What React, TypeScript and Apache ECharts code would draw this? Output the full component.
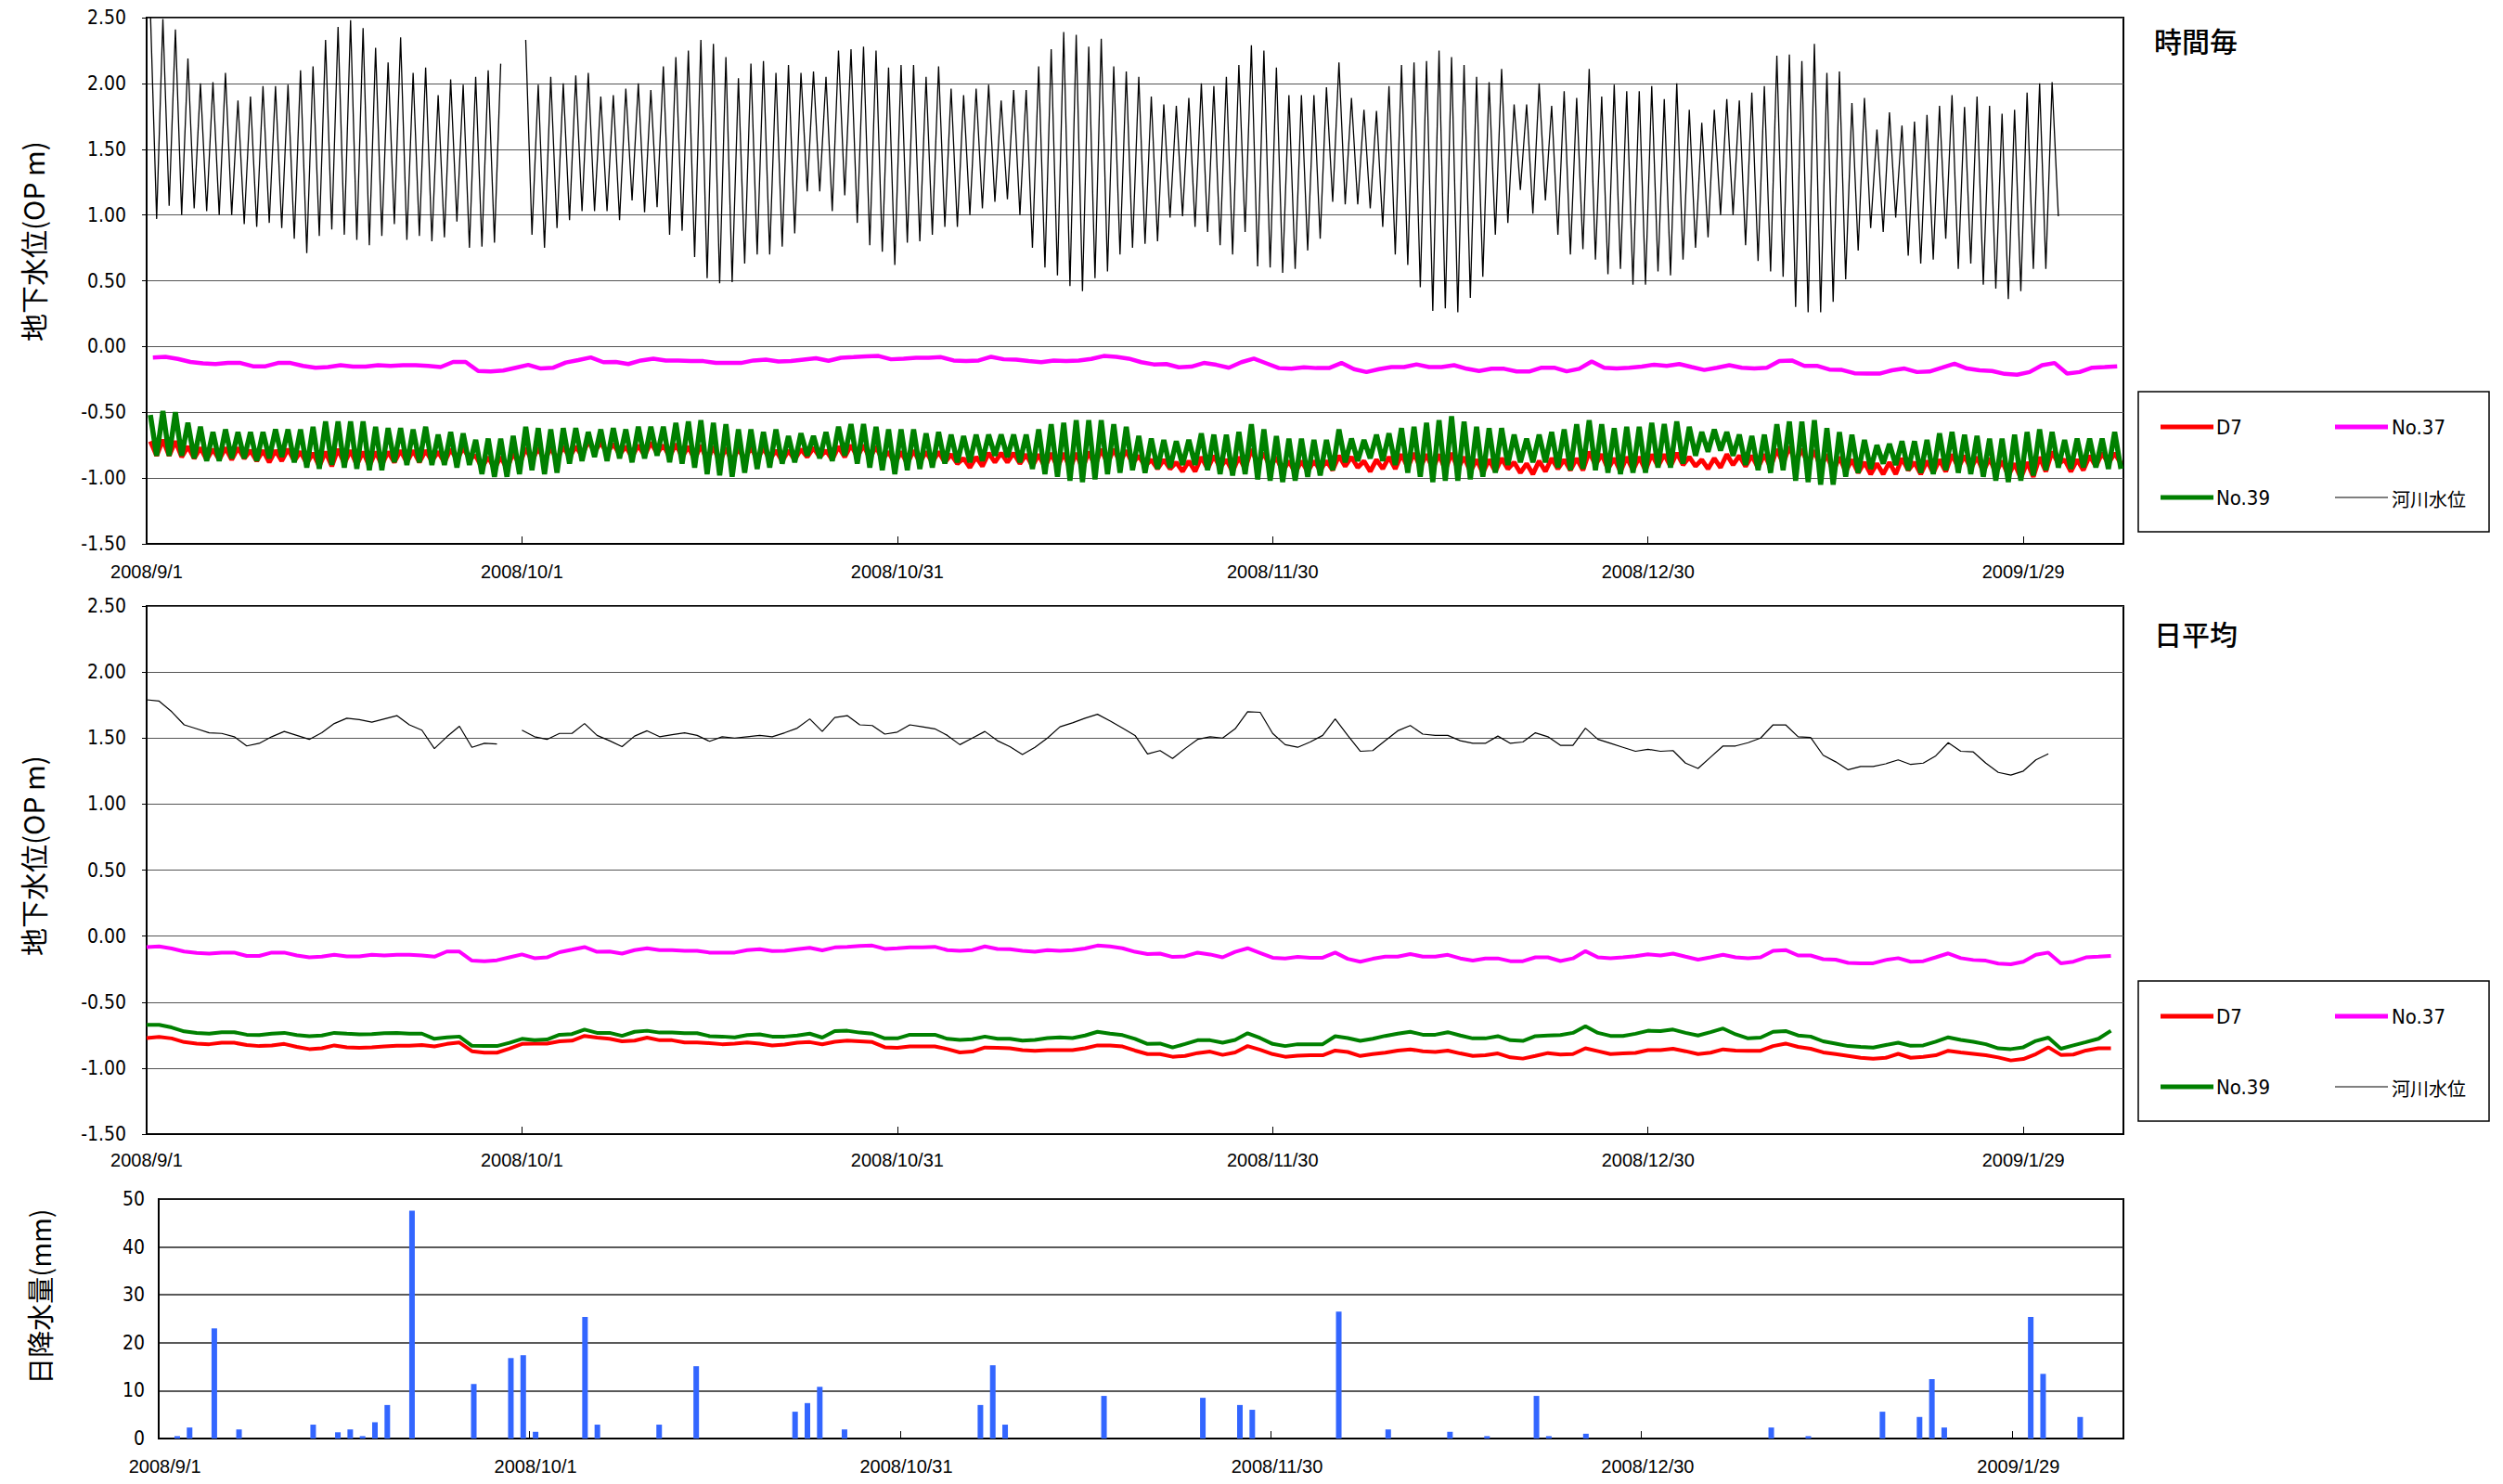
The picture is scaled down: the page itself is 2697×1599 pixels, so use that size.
import React, { useEffect, useRef } from 'react';
import * as echarts from 'echarts';

// ---------- tick labels ----------
const tickLabels = ['2008/9/1', '2008/10/1', '2008/10/31', '2008/11/30', '2008/12/30', '2009/1/29'];

// ---------- hourly panel (時間毎): daily high / low turning points ----------
const riverHi = [2.55, 2.49, 2.41, 2.19, 2.0, 2.01, 2.08, 1.87, 1.9, 1.98, 1.98, 1.99, 2.1, 2.13, 2.33, 2.43, 2.48, 2.42, 2.27, 2.16,
  2.35, 2.08, 2.12, 1.91, 2.03, 1.99, 2.05, 2.1, 2.15, null, 2.33, 1.99, 2.05, 2.0, 2.06, 2.08, 1.9, 1.91, 1.96, 2.0,
  1.95, 2.13, 2.2, 2.25, 2.33, 2.3, 2.2, 2.04, 2.15, 2.17, 2.08, 2.14, 2.08, 2.09, 2.05, 2.25, 2.26, 2.28, 2.25, 2.12,
  2.14, 2.14, 2.05, 2.13, 1.96, 1.91, 1.96, 1.99, 1.87, 1.95, 1.95, 2.13, 2.26, 2.39, 2.37, 2.28, 2.34, 2.13, 2.09, 2.05,
  1.9, 1.84, 1.83, 1.89, 2.0, 1.98, 2.05, 2.14, 2.29, 2.25, 2.12, 1.91, 1.91, 1.91, 1.97, 2.16, 1.89, 1.8, 1.79, 1.98,
  2.14, 2.16, 2.17, 2.25, 2.2, 2.14, 2.05, 2.01, 2.11, 1.84, 1.84, 2.0, 1.83, 1.94, 1.89, 2.11, 1.9, 1.99, 1.94, 1.94,
  1.98, 1.88, 2.0, 1.8, 1.7, 1.8, 1.88, 1.87, 1.93, 1.98, 2.21, 2.22, 2.17, 2.3, 2.08, 2.09, 1.85, 1.89, 1.65, 1.78,
  1.68, 1.71, 1.76, 1.83, 1.91, 1.82, 1.9, 1.83, 1.77, 1.8, 1.93, 2.0, 2.01];
const riverLo = [0.97, 1.07, 1.0, 1.05, 1.03, 1.0, 1.0, 0.93, 0.91, 0.94, 0.9, 0.82, 0.71, 0.84, 0.89, 0.85, 0.81, 0.77, 0.84, 0.93,
  0.81, 0.84, 0.8, 0.83, 0.95, 0.75, 0.76, 0.79, null, null, 0.85, 0.75, 0.9, 0.96, 1.03, 1.03, 1.03, 0.96, 1.11, 1.02,
  1.06, 0.85, 0.88, 0.68, 0.52, 0.48, 0.49, 0.63, 0.7, 0.7, 0.76, 0.86, 1.18, 1.18, 1.03, 1.15, 0.94, 0.77, 0.72, 0.62,
  0.79, 0.8, 0.85, 0.91, 0.91, 1.0, 1.05, 1.1, 1.12, 1.0, 0.75, 0.6, 0.54, 0.46, 0.42, 0.52, 0.57, 0.7, 0.75, 0.78,
  0.8, 0.98, 0.99, 0.91, 0.87, 0.77, 0.7, 0.87, 0.61, 0.6, 0.56, 0.59, 0.73, 0.82, 1.1, 1.08, 1.08, 1.05, 0.91, 0.7,
  0.62, 0.45, 0.27, 0.29, 0.26, 0.37, 0.53, 0.85, 0.94, 1.19, 1.01, 1.11, 0.85, 0.7, 0.74, 0.66, 0.55, 0.59, 0.47, 0.47,
  0.57, 0.54, 0.66, 0.75, 0.83, 1.0, 1.0, 0.77, 0.65, 0.57, 0.53, 0.3, 0.26, 0.26, 0.34, 0.51, 0.73, 0.9, 0.87, 0.98,
  0.69, 0.63, 0.66, 0.82, 0.59, 0.63, 0.47, 0.44, 0.36, 0.42, 0.59, 0.59, 0.99];

const no39Hi = [-0.52, -0.49, -0.5, -0.58, -0.61, -0.65, -0.63, -0.65, -0.65, -0.65, -0.63, -0.63, -0.63, -0.61, -0.57, -0.57, -0.57, -0.57, -0.61, -0.62,
  -0.62, -0.63, -0.61, -0.67, -0.65, -0.66, -0.71, -0.7, -0.7, -0.68, -0.61, -0.62, -0.63, -0.62, -0.62, -0.65, -0.63, -0.62, -0.63, -0.61,
  -0.61, -0.61, -0.58, -0.57, -0.56, -0.58, -0.59, -0.63, -0.63, -0.65, -0.63, -0.68, -0.66, -0.68, -0.65, -0.61, -0.59, -0.59, -0.61, -0.63,
  -0.63, -0.63, -0.66, -0.65, -0.67, -0.68, -0.67, -0.67, -0.67, -0.67, -0.67, -0.63, -0.59, -0.58, -0.56, -0.56, -0.56, -0.59, -0.61, -0.68,
  -0.7, -0.71, -0.72, -0.71, -0.66, -0.67, -0.67, -0.65, -0.59, -0.63, -0.68, -0.7, -0.7, -0.71, -0.71, -0.63, -0.7, -0.71, -0.67, -0.66,
  -0.62, -0.61, -0.58, -0.56, -0.53, -0.57, -0.61, -0.62, -0.62, -0.67, -0.7, -0.67, -0.65, -0.63, -0.59, -0.56, -0.59, -0.62, -0.61, -0.61,
  -0.58, -0.59, -0.57, -0.61, -0.65, -0.63, -0.65, -0.67, -0.68, -0.67, -0.59, -0.57, -0.57, -0.56, -0.62, -0.65, -0.67, -0.71, -0.75, -0.74,
  -0.72, -0.72, -0.71, -0.66, -0.65, -0.67, -0.68, -0.7, -0.7, -0.67, -0.65, -0.63, -0.65, -0.71, -0.7, -0.7, -0.7, -0.65];
const no39Lo = [-0.83, -0.83, -0.83, -0.85, -0.87, -0.87, -0.85, -0.85, -0.87, -0.85, -0.84, -0.88, -0.92, -0.93, -0.9, -0.92, -0.93, -0.94, -0.94, -0.88,
  -0.9, -0.88, -0.9, -0.9, -0.92, -0.9, -0.97, -0.99, -0.99, -0.97, -0.94, -0.97, -0.96, -0.89, -0.87, -0.84, -0.87, -0.85, -0.88, -0.85,
  -0.83, -0.88, -0.89, -0.92, -0.97, -0.98, -0.99, -0.96, -0.93, -0.92, -0.89, -0.88, -0.83, -0.85, -0.87, -0.83, -0.89, -0.92, -0.94, -0.97,
  -0.94, -0.93, -0.92, -0.89, -0.88, -0.88, -0.87, -0.83, -0.84, -0.88, -0.93, -0.97, -0.99, -1.02, -1.03, -1.01, -0.97, -0.96, -0.94, -0.96,
  -0.93, -0.92, -0.9, -0.9, -0.94, -0.97, -0.98, -0.97, -1.01, -1.02, -1.03, -1.02, -0.99, -0.98, -0.94, -0.88, -0.87, -0.85, -0.87, -0.9,
  -0.96, -0.99, -1.03, -1.02, -1.02, -1.01, -0.99, -0.96, -0.9, -0.88, -0.88, -0.88, -0.92, -0.94, -0.93, -0.94, -0.96, -0.97, -0.96, -0.96,
  -0.92, -0.92, -0.89, -0.83, -0.8, -0.79, -0.83, -0.9, -0.94, -0.96, -0.94, -1.02, -1.03, -1.05, -1.05, -0.99, -0.96, -0.93, -0.89, -0.9,
  -0.94, -0.96, -0.97, -0.94, -0.96, -0.97, -0.99, -1.02, -1.03, -1.02, -0.98, -0.94, -0.92, -0.93, -0.92, -0.92, -0.93, -0.93];

const d7Hi = [-0.72, -0.71, -0.72, -0.76, -0.77, -0.78, -0.77, -0.77, -0.79, -0.79, -0.79, -0.78, -0.8, -0.81, -0.8, -0.78, -0.79, -0.8, -0.8, -0.8,
  -0.79, -0.79, -0.79, -0.8, -0.78, -0.77, -0.83, -0.84, -0.84, -0.81, -0.77, -0.77, -0.77, -0.76, -0.76, -0.72, -0.73, -0.74, -0.76, -0.75,
  -0.73, -0.75, -0.74, -0.76, -0.75, -0.76, -0.77, -0.77, -0.76, -0.77, -0.79, -0.79, -0.78, -0.77, -0.79, -0.76, -0.75, -0.75, -0.76, -0.8,
  -0.8, -0.79, -0.8, -0.8, -0.82, -0.85, -0.84, -0.81, -0.81, -0.81, -0.82, -0.82, -0.81, -0.81, -0.81, -0.8, -0.78, -0.78, -0.79, -0.83,
  -0.86, -0.86, -0.88, -0.87, -0.84, -0.83, -0.86, -0.84, -0.78, -0.81, -0.84, -0.87, -0.87, -0.87, -0.87, -0.83, -0.84, -0.87, -0.86, -0.84,
  -0.82, -0.81, -0.82, -0.82, -0.81, -0.84, -0.86, -0.86, -0.85, -0.88, -0.89, -0.87, -0.85, -0.86, -0.85, -0.8, -0.82, -0.85, -0.84, -0.84,
  -0.82, -0.82, -0.81, -0.84, -0.86, -0.85, -0.82, -0.83, -0.83, -0.82, -0.78, -0.76, -0.78, -0.79, -0.82, -0.84, -0.86, -0.88, -0.89, -0.88,
  -0.85, -0.88, -0.87, -0.86, -0.82, -0.83, -0.84, -0.85, -0.87, -0.89, -0.88, -0.84, -0.8, -0.86, -0.86, -0.83, -0.81, -0.81];
const d7Lo = [-0.83, -0.83, -0.84, -0.85, -0.86, -0.86, -0.86, -0.85, -0.87, -0.88, -0.87, -0.87, -0.89, -0.91, -0.91, -0.89, -0.9, -0.91, -0.9, -0.88,
  -0.88, -0.88, -0.87, -0.88, -0.86, -0.85, -0.92, -0.93, -0.93, -0.9, -0.87, -0.87, -0.86, -0.84, -0.83, -0.8, -0.81, -0.82, -0.84, -0.83,
  -0.81, -0.84, -0.84, -0.86, -0.87, -0.88, -0.88, -0.87, -0.86, -0.86, -0.87, -0.86, -0.84, -0.84, -0.86, -0.84, -0.84, -0.85, -0.86, -0.89,
  -0.89, -0.88, -0.88, -0.88, -0.89, -0.92, -0.91, -0.88, -0.88, -0.89, -0.91, -0.92, -0.92, -0.93, -0.93, -0.91, -0.89, -0.88, -0.89, -0.91,
  -0.93, -0.93, -0.95, -0.95, -0.93, -0.92, -0.95, -0.93, -0.89, -0.92, -0.95, -0.96, -0.95, -0.94, -0.94, -0.91, -0.92, -0.95, -0.93, -0.93,
  -0.92, -0.92, -0.93, -0.94, -0.93, -0.95, -0.96, -0.95, -0.93, -0.96, -0.97, -0.95, -0.93, -0.94, -0.94, -0.9, -0.93, -0.95, -0.94, -0.94,
  -0.91, -0.91, -0.9, -0.91, -0.93, -0.92, -0.9, -0.91, -0.92, -0.92, -0.89, -0.88, -0.9, -0.92, -0.95, -0.95, -0.96, -0.97, -0.97, -0.97,
  -0.94, -0.97, -0.96, -0.95, -0.92, -0.93, -0.95, -0.96, -0.98, -1.0, -0.99, -0.95, -0.89, -0.95, -0.94, -0.91, -0.89, -0.89];

// ---------- daily averages (日平均) ----------
const riverDaily = [1.79, 1.78, 1.7, 1.6, 1.57, 1.54, 1.535, 1.51, 1.44, 1.46, 1.51, 1.55, 1.52, 1.49, 1.54, 1.61, 1.65, 1.64, 1.62, 1.645,
  1.67, 1.6, 1.56, 1.42, 1.51, 1.59, 1.43, 1.46, 1.455, null, 1.56, 1.51, 1.49, 1.535, 1.535, 1.61, 1.52, 1.48, 1.435, 1.515,
  1.555, 1.51, 1.525, 1.54, 1.52, 1.475, 1.51, 1.5, 1.51, 1.52, 1.51, 1.54, 1.575, 1.645, 1.55, 1.655, 1.67, 1.6, 1.595, 1.53,
  1.545, 1.6, 1.585, 1.57, 1.52, 1.45, 1.5, 1.55, 1.48, 1.435, 1.375, 1.43, 1.5, 1.585, 1.615, 1.65, 1.68, 1.63, 1.575, 1.52,
  1.38, 1.405, 1.345, 1.42, 1.49, 1.51, 1.5, 1.57, 1.7, 1.695, 1.535, 1.45, 1.43, 1.47, 1.52, 1.645, 1.52, 1.4, 1.405, 1.48,
  1.555, 1.595, 1.53, 1.52, 1.52, 1.48, 1.46, 1.46, 1.515, 1.46, 1.47, 1.54, 1.51, 1.445, 1.445, 1.575, 1.49, 1.46, 1.43, 1.4,
  1.415, 1.4, 1.405, 1.31, 1.27, 1.355, 1.44, 1.44, 1.465, 1.5, 1.6, 1.6, 1.51, 1.505, 1.37, 1.32, 1.26, 1.285, 1.285, 1.305,
  1.335, 1.3, 1.31, 1.365, 1.465, 1.4, 1.395, 1.31, 1.24, 1.22, 1.25, 1.335, 1.38];
const no37Daily = [-0.083, -0.078, -0.094, -0.117, -0.128, -0.133, -0.125, -0.125, -0.15, -0.15, -0.125, -0.125, -0.147, -0.161, -0.156, -0.142, -0.153, -0.153, -0.142, -0.147,
  -0.142, -0.142, -0.147, -0.156, -0.117, -0.117, -0.186, -0.19, -0.183, -0.161, -0.139, -0.167, -0.161, -0.122, -0.103, -0.083, -0.119, -0.117, -0.133, -0.106,
  -0.092, -0.106, -0.106, -0.111, -0.111, -0.125, -0.125, -0.125, -0.106, -0.1, -0.114, -0.111, -0.1, -0.089, -0.108, -0.086, -0.081, -0.075, -0.072, -0.097,
  -0.092, -0.086, -0.086, -0.081, -0.106, -0.111, -0.106, -0.078, -0.097, -0.1, -0.111, -0.119, -0.106, -0.111, -0.106, -0.094, -0.072, -0.078, -0.092, -0.119,
  -0.136, -0.133, -0.158, -0.153, -0.125, -0.139, -0.161, -0.119, -0.092, -0.128, -0.164, -0.169, -0.158, -0.164, -0.164, -0.125, -0.172, -0.194, -0.172, -0.156,
  -0.156, -0.136, -0.156, -0.156, -0.142, -0.169, -0.186, -0.169, -0.169, -0.19, -0.19, -0.161, -0.161, -0.189, -0.169, -0.114, -0.161, -0.167, -0.161, -0.152,
  -0.138, -0.147, -0.133, -0.156, -0.178, -0.161, -0.142, -0.161, -0.167, -0.161, -0.111, -0.106, -0.147, -0.147, -0.175, -0.178, -0.203, -0.206, -0.206, -0.181,
  -0.167, -0.194, -0.19, -0.161, -0.131, -0.167, -0.181, -0.186, -0.208, -0.214, -0.194, -0.142, -0.125, -0.206, -0.194, -0.161, -0.156, -0.15];
const no39Daily = [-0.672, -0.672, -0.692, -0.722, -0.733, -0.739, -0.728, -0.728, -0.747, -0.75, -0.739, -0.733, -0.75, -0.758, -0.753, -0.733, -0.739, -0.744, -0.742, -0.736,
  -0.733, -0.739, -0.739, -0.778, -0.767, -0.761, -0.831, -0.833, -0.833, -0.808, -0.778, -0.789, -0.783, -0.747, -0.742, -0.708, -0.733, -0.733, -0.756, -0.725,
  -0.717, -0.731, -0.731, -0.736, -0.736, -0.758, -0.761, -0.767, -0.75, -0.744, -0.761, -0.761, -0.753, -0.739, -0.769, -0.72, -0.717, -0.731, -0.739, -0.775,
  -0.775, -0.747, -0.747, -0.747, -0.778, -0.786, -0.781, -0.761, -0.778, -0.778, -0.792, -0.786, -0.772, -0.767, -0.772, -0.753, -0.725, -0.739, -0.75, -0.778,
  -0.817, -0.814, -0.844, -0.817, -0.789, -0.789, -0.808, -0.786, -0.736, -0.772, -0.817, -0.833, -0.819, -0.819, -0.819, -0.758, -0.772, -0.794, -0.778, -0.756,
  -0.739, -0.725, -0.747, -0.747, -0.728, -0.753, -0.775, -0.775, -0.758, -0.789, -0.794, -0.758, -0.753, -0.75, -0.733, -0.683, -0.733, -0.756, -0.756, -0.74,
  -0.717, -0.719, -0.708, -0.733, -0.753, -0.728, -0.7, -0.744, -0.775, -0.769, -0.725, -0.719, -0.753, -0.761, -0.797, -0.814, -0.833, -0.839, -0.844, -0.825,
  -0.808, -0.831, -0.828, -0.8, -0.767, -0.786, -0.8, -0.819, -0.85, -0.856, -0.842, -0.794, -0.769, -0.853, -0.828, -0.803, -0.778, -0.717];
const d7Daily = [-0.772, -0.764, -0.775, -0.803, -0.814, -0.819, -0.808, -0.808, -0.825, -0.833, -0.828, -0.817, -0.839, -0.856, -0.85, -0.828, -0.842, -0.847, -0.842, -0.836,
  -0.831, -0.831, -0.825, -0.836, -0.817, -0.806, -0.872, -0.883, -0.883, -0.853, -0.817, -0.814, -0.814, -0.797, -0.792, -0.756, -0.769, -0.778, -0.797, -0.792,
  -0.769, -0.789, -0.789, -0.806, -0.806, -0.811, -0.819, -0.814, -0.806, -0.814, -0.828, -0.822, -0.808, -0.803, -0.82, -0.8, -0.792, -0.797, -0.803, -0.842,
  -0.847, -0.836, -0.836, -0.836, -0.856, -0.881, -0.875, -0.844, -0.847, -0.85, -0.864, -0.869, -0.864, -0.864, -0.864, -0.85, -0.828, -0.828, -0.836, -0.867,
  -0.894, -0.894, -0.914, -0.908, -0.886, -0.875, -0.9, -0.881, -0.833, -0.861, -0.894, -0.914, -0.906, -0.903, -0.903, -0.867, -0.878, -0.908, -0.894, -0.883,
  -0.867, -0.858, -0.872, -0.878, -0.867, -0.889, -0.908, -0.903, -0.889, -0.919, -0.928, -0.908, -0.886, -0.897, -0.894, -0.85, -0.872, -0.894, -0.889, -0.885,
  -0.864, -0.864, -0.853, -0.872, -0.894, -0.883, -0.858, -0.867, -0.869, -0.869, -0.833, -0.814, -0.839, -0.853, -0.881, -0.894, -0.908, -0.922, -0.928, -0.922,
  -0.892, -0.922, -0.914, -0.903, -0.869, -0.881, -0.892, -0.903, -0.919, -0.942, -0.931, -0.894, -0.842, -0.9, -0.897, -0.867, -0.85, -0.85];

// ---------- daily rainfall (日降水量), day index from 2008/9/1 ----------
const rainDay = [1, 2, 4, 6, 12, 14, 15, 16, 17, 18, 20, 25, 28, 29, 30, 34, 35, 40, 43, 51, 52, 53, 55, 66, 67, 68,
  76, 84, 87, 88, 95, 99, 104, 107, 111, 112, 115, 130, 133, 139, 142, 143, 144, 151, 152, 155];
const rainMm = [0.5, 2.3, 23.0, 1.9, 2.9, 1.3, 1.9, 0.5, 3.4, 7.0, 47.6, 11.4, 16.8, 17.4, 1.4, 25.4, 2.9, 2.9, 15.1, 5.6, 7.4, 10.8, 1.9, 7.0, 15.3, 2.9,
  8.9, 8.5, 7.0, 6.0, 26.5, 1.9, 1.4, 0.5, 8.9, 0.5, 1.0, 2.3, 0.5, 5.6, 4.5, 12.4, 2.3, 25.4, 13.5, 4.5];
const rainCategoryCount = 159;

const NUM_FONT = "'Liberation Sans Narrow', 'DejaVu Sans Condensed', 'Liberation Sans', sans-serif";
const DATE_FONT = "'Liberation Sans', 'DejaVu Sans', sans-serif";
const JP_FONT = "'Noto Sans CJK JP', 'Noto Sans', sans-serif";

function turningPoints(hi: (number | null)[], lo: (number | null)[]) {
  const out: (number | null)[][] = [];
  for (let i = 0; i < hi.length; i++) {
    out.push([i + 0.3, hi[i]]);
    out.push([i + 0.8, lo[i]]);
  }
  return out;
}
function dailyPoints(v: (number | null)[], offset: number) {
  return v.map((y, i) => [i + offset, y]);
}
function dayLabel(v: number) {
  if (Math.abs(v / 30 - Math.round(v / 30)) > 1e-6) return '';
  return tickLabels[Math.round(v / 30)] ?? '';
}

export default function App() {
  const ref = useRef<HTMLDivElement>(null);
  useEffect(() => {
    if (!ref.current) return;
    const chart = echarts.init(ref.current, undefined, { renderer: 'svg' });

    const grids = [
      { left: 158, top: 19, width: 2130, height: 567 },
      { left: 158, top: 653, width: 2130, height: 569 },
      { left: 171, top: 1292, width: 2117, height: 258 },
    ].map((g) => ({ ...g, show: true, borderColor: '#000', borderWidth: 2, backgroundColor: 'transparent' }));

    const valueX = (gi: number, margin: number) => ({
      type: 'value', gridIndex: gi, min: 0, max: 158, interval: 30,
      axisLine: { show: true, onZero: false, lineStyle: { color: '#000', width: 2 } },
      axisTick: { show: true, inside: true, length: 8, lineStyle: { color: '#000', width: 1 } },
      axisLabel: { formatter: dayLabel, margin, color: '#000', fontSize: 20, fontFamily: DATE_FONT, showMaxLabel: false, showMinLabel: true },
      splitLine: { show: false },
    });
    const levelY = (gi: number) => ({
      type: 'value', gridIndex: gi, min: -1.5, max: 2.5, interval: 0.5,
      axisLine: { show: true, lineStyle: { color: '#000', width: 2 } },
      axisTick: { show: true, length: 5, lineStyle: { color: '#000' } },
      axisLabel: { formatter: (v: number) => v.toFixed(2), margin: 22, color: '#000', fontSize: 21, fontFamily: NUM_FONT },
      splitLine: { show: true, lineStyle: { color: '#555', width: 1 } },
    });

    const rainData = new Array(rainCategoryCount).fill(0);
    rainDay.forEach((d, i) => { rainData[d] = rainMm[i]; });
    const rainCats = Array.from({ length: rainCategoryCount }, (_, i) => String(i));

    const legendBox = (top: number) => {
      const r1 = top + 38;
      const r2 = top + 114;
      const txt = (x: number, y: number, t: string, jp = false) => ({
        type: 'text', x, y,
        style: { text: t, fill: '#000', font: jp ? `20px ${JP_FONT}` : `22px ${NUM_FONT}`, textVerticalAlign: 'middle' },
      });
      const ln = (x1: number, y: number, color: string, w: number) => ({
        type: 'line', shape: { x1, y1: y, x2: x1 + 57, y2: y }, style: { stroke: color, lineWidth: w },
      });
      return [
        { type: 'rect', shape: { x: 2304, y: top, width: 378, height: 151 }, style: { fill: '#fff', stroke: '#000', lineWidth: 1.5 } },
        ln(2328, r1, '#ff0000', 5), txt(2388, r1, 'D7'),
        ln(2516, r1, '#ff00ff', 5), txt(2577, r1, 'No.37'),
        ln(2328, r2, '#008000', 5), txt(2388, r2, 'No.39'),
        ln(2516, r2, '#000', 1), txt(2577, r2 + 1, '河川水位', true),
      ];
    };

    const option: any = {
      animation: false,
      backgroundColor: '#fff',
      grid: grids,
      xAxis: [
        valueX(0, 20),
        valueX(1, 18),
        {
          type: 'category', gridIndex: 2, data: rainCats, boundaryGap: true,
          axisLine: { show: true, lineStyle: { color: '#000', width: 2 } },
          axisTick: { show: true, inside: true, length: 8, interval: 29, alignWithLabel: false, lineStyle: { color: '#000' } },
          axisLabel: { interval: 29, formatter: (v: string) => tickLabels[Number(v) / 30] ?? '', margin: 20, color: '#000', fontSize: 20, fontFamily: DATE_FONT },
          splitLine: { show: false },
        },
      ],
      yAxis: [
        levelY(0),
        levelY(1),
        {
          type: 'value', gridIndex: 2, min: 0, max: 50, interval: 10,
          axisLine: { show: true, lineStyle: { color: '#000', width: 2 } },
          axisTick: { show: false },
          axisLabel: { margin: 15, color: '#000', fontSize: 21, fontFamily: NUM_FONT },
          splitLine: { show: true, lineStyle: { color: '#222', width: 1.5 } },
        },
      ],
      series: [
        { name: 'D7', type: 'line', xAxisIndex: 0, yAxisIndex: 0, data: turningPoints(d7Hi, d7Lo), showSymbol: false, lineStyle: { color: '#ff0000', width: 5 }, itemStyle: { color: '#ff0000' }, z: 2 },
        { name: 'No.37', type: 'line', xAxisIndex: 0, yAxisIndex: 0, data: dailyPoints(no37Daily, 0.5), showSymbol: false, lineStyle: { color: '#ff00ff', width: 4.5 }, itemStyle: { color: '#ff00ff' }, z: 3 },
        { name: 'No.39', type: 'line', xAxisIndex: 0, yAxisIndex: 0, data: turningPoints(no39Hi, no39Lo), showSymbol: false, lineStyle: { color: '#008000', width: 5.5 }, itemStyle: { color: '#008000' }, z: 4 },
        { name: '河川水位', type: 'line', xAxisIndex: 0, yAxisIndex: 0, data: turningPoints(riverHi, riverLo), showSymbol: false, connectNulls: false, lineStyle: { color: '#000', width: 1.3 }, itemStyle: { color: '#000' }, z: 5 },

        { name: 'D7 日平均', type: 'line', xAxisIndex: 1, yAxisIndex: 1, data: dailyPoints(d7Daily, 0), showSymbol: false, lineStyle: { color: '#ff0000', width: 4 }, z: 2 },
        { name: 'No.37 日平均', type: 'line', xAxisIndex: 1, yAxisIndex: 1, data: dailyPoints(no37Daily, 0), showSymbol: false, lineStyle: { color: '#ff00ff', width: 4 }, z: 3 },
        { name: 'No.39 日平均', type: 'line', xAxisIndex: 1, yAxisIndex: 1, data: dailyPoints(no39Daily, 0), showSymbol: false, lineStyle: { color: '#008000', width: 4 }, z: 4 },
        { name: '河川水位 日平均', type: 'line', xAxisIndex: 1, yAxisIndex: 1, data: dailyPoints(riverDaily, 0), showSymbol: false, connectNulls: false, lineStyle: { color: '#000', width: 1.2 }, z: 5 },

        { name: '日降水量', type: 'bar', xAxisIndex: 2, yAxisIndex: 2, data: rainData, barWidth: 6, itemStyle: { color: '#3366ff' } },
      ],
      graphic: [
        { type: 'text', x: 35, y: 260, rotation: Math.PI / 2, style: { text: '地下水位(OP m)', font: `30px ${JP_FONT}`, fill: '#000', textAlign: 'center', textVerticalAlign: 'middle' } },
        { type: 'text', x: 35, y: 922, rotation: Math.PI / 2, style: { text: '地下水位(OP m)', font: `30px ${JP_FONT}`, fill: '#000', textAlign: 'center', textVerticalAlign: 'middle' } },
        { type: 'text', x: 42, y: 1397, rotation: Math.PI / 2, style: { text: '日降水量(mm)', font: `29px ${JP_FONT}`, fill: '#000', textAlign: 'center', textVerticalAlign: 'middle' } },
        { type: 'text', x: 2321, y: 43, style: { text: '時間毎', font: `500 30px ${JP_FONT}`, fill: '#000', textVerticalAlign: 'middle' } },
        { type: 'text', x: 2321, y: 682, style: { text: '日平均', font: `500 30px ${JP_FONT}`, fill: '#000', textVerticalAlign: 'middle' } },
        ...legendBox(422),
        ...legendBox(1057),
      ],
    };
    chart.setOption(option);
    return () => chart.dispose();
  }, []);
  return <div ref={ref} style={{ position: 'absolute', left: 0, top: 0, width: 2697, height: 1599 }} />;
}
